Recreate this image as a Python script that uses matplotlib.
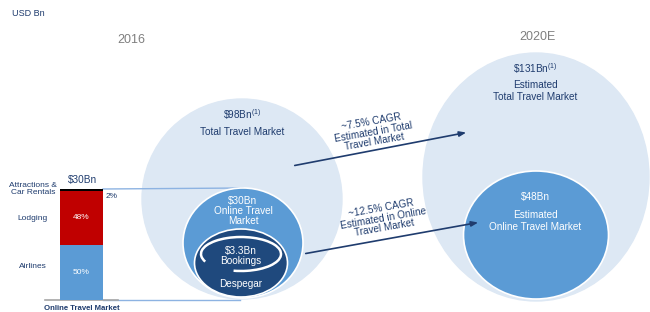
import matplotlib.pyplot as plt
from matplotlib.patches import Ellipse, Arc

# ── Data ──────────────────────────────────────────────────────────────────────
unit_label = "USD Bn"
years = ["2016", "2020E"]
total_market = [98, 131]          # USD Bn
online_market = [30, 48]          # USD Bn
despegar_bookings = 3.3           # USD Bn
segments = ["Airlines", "Lodging", "Attractions &\nCar Rentals"]
segment_share = [50, 48, 2]       # % of online travel market 2016
cagr_labels = ["~7.5% CAGR\nEstimated in Total\nTravel Market",
               "~12.5% CAGR\nEstimated in Online\nTravel Market"]

# ── Style ─────────────────────────────────────────────────────────────────────
plt.rcParams.update({
    "font.family": ["Liberation Sans", "DejaVu Sans"],
    "mathtext.fontset": "custom",
    "mathtext.rm": "Liberation Sans",
    "mathtext.default": "regular",
})
LIGHT = "#dde8f4"
MID = "#5b9bd5"
NAVY = "#1f497d"
TXT = "#1f3c6e"
RED = "#c00000"
GRAY = "#7f7f7f"
FS = 7.2

fig = plt.figure(figsize=(6.5, 3.12), dpi=100)
ax = fig.add_axes([0, 0, 1, 1])
ax.set_xlim(0, 650)
ax.set_ylim(312, 0)
ax.axis("off")

# ── Circles ───────────────────────────────────────────────────────────────────
ax.add_patch(Ellipse((242, 199), 200, 200, color=LIGHT, zorder=1))
ax.add_patch(Ellipse((536, 177), 226, 248, color=LIGHT, zorder=1))
ax.add_patch(Ellipse((243, 243), 120, 110, facecolor=MID, edgecolor="white", lw=1.2, zorder=2))
ax.add_patch(Ellipse((536, 235), 145, 128, facecolor=MID, edgecolor="white", lw=1.2, zorder=2))
ax.add_patch(Ellipse((241, 263), 93, 68, facecolor=NAVY, edgecolor="white", lw=1.2, zorder=3))
# white swoosh around the bookings figure
ax.add_patch(Arc((241, 254), 80, 34, theta1=168, theta2=474, color="white", lw=1.8, zorder=4))

# connector lines from bar to online circle
ax.plot([103, 243], [189, 188], color="#8db3e2", lw=1, zorder=1.5)
ax.plot([103, 240], [300, 300], color="#8db3e2", lw=1, zorder=1.5)
ax.plot([45, 118], [300, 300], color="#a6a6a6", lw=1.2, zorder=5)

# ── Text ──────────────────────────────────────────────────────────────────────
ax.text(12, 14, unit_label, color=TXT, fontsize=6.5, va="center")
ax.text(131, 40, years[0], color=GRAY, fontsize=9, ha="center", va="center")
ax.text(537, 37, years[1], color=GRAY, fontsize=9, ha="center", va="center")

ax.text(242, 115, rf"\${total_market[0]}Bn$^{{(1)}}$", color=TXT, fontsize=FS, ha="center", va="center")
ax.text(242, 132, "Total Travel Market", color=TXT, fontsize=FS, ha="center", va="center")
ax.text(535, 69, rf"\${total_market[1]}Bn$^{{(1)}}$", color=TXT, fontsize=FS, ha="center", va="center")
ax.text(535, 85, "Estimated", color=TXT, fontsize=FS, ha="center", va="center")
ax.text(535, 97, "Total Travel Market", color=TXT, fontsize=FS, ha="center", va="center")

ax.text(243, 211, rf"\${online_market[0]}Bn" + "\nOnline Travel\nMarket", color="white",
        fontsize=FS, ha="center", va="center", linespacing=1.05)
ax.text(241, 251, rf"\${despegar_bookings}Bn", color="white",
        fontsize=FS, ha="center", va="center", zorder=5)
ax.text(241, 261, "Bookings", color="white",
        fontsize=FS, ha="center", va="center", zorder=5)
ax.text(241, 284, "Despegar", color="white", fontsize=FS, ha="center", va="center", zorder=5)
ax.text(535, 197, rf"\${online_market[1]}Bn", color="white", fontsize=FS, ha="center", va="center")
ax.text(535, 221, "Estimated\nOnline Travel Market", color="white", fontsize=FS,
        ha="center", va="center", linespacing=1.2)

# ── CAGR arrows ───────────────────────────────────────────────────────────────
arrow_kw = dict(arrowstyle="-|>,head_length=0.4,head_width=0.15", color=TXT, lw=1.2)
ax.annotate("", xy=(469, 132), xytext=(292, 166), arrowprops=arrow_kw, zorder=6)
ax.annotate("", xy=(481, 222), xytext=(303, 254), arrowprops=arrow_kw, zorder=6)
ax.text(373, 132, cagr_labels[0], color=TXT, fontsize=FS, ha="center", va="center",
        rotation=10, rotation_mode="anchor", linespacing=1.0)
ax.text(383, 218, cagr_labels[1], color=TXT, fontsize=FS, ha="center", va="center",
        rotation=10, rotation_mode="anchor", linespacing=1.0)

# ── Stacked bar (inset axes in pixel position 60..103, 189..300) ─────────────
bax = fig.add_axes([60 / 650, 1 - 300 / 312, 43 / 650, 111 / 312])
bar_colors = [MID, RED, "black"]
bottom = 0
for name, share, col in zip(segments, segment_share, bar_colors):
    bax.bar(0, share, bottom=bottom, width=1, color=col)
    if share > 10:
        bax.text(0, bottom + share / 2, f"{share}%", color="white", fontsize=6,
                 ha="center", va="center")
    bottom += share
bax.set_xlim(-0.5, 0.5)
bax.set_ylim(0, 100)
bax.axis("off")

ax.text(82, 180, rf"\${online_market[0]}Bn", color=TXT, fontsize=FS, ha="center", va="center")
ax.text(33, 189, segments[2], color=TXT, fontsize=6, ha="center", va="center", linespacing=1.0)
ax.text(33, 218, segments[1], color=TXT, fontsize=6, ha="center", va="center")
ax.text(33, 267, segments[0], color=TXT, fontsize=6, ha="center", va="center")
ax.text(106, 196, f"{segment_share[2]}%", color=TXT, fontsize=6, ha="left", va="center")
ax.text(82, 308, "Online Travel Market", color=TXT, fontsize=5.6, ha="center",
        va="center", fontweight="bold")

fig.savefig("out.png", dpi=100)
